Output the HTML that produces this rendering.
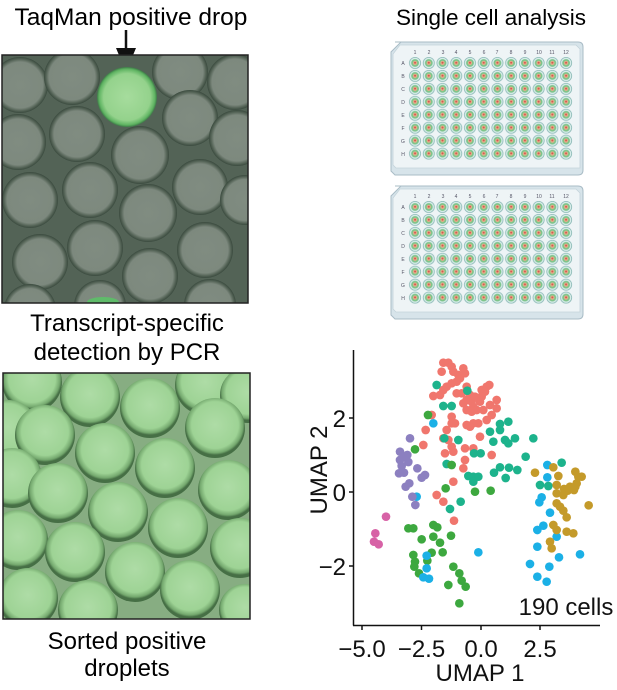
<!DOCTYPE html>
<html><head><meta charset="utf-8"><style>
html,body{margin:0;padding:0;background:#fff;}
svg{display:block;font-family:"Liberation Sans",Arial,sans-serif;}
</style></head><body>
<svg width="617" height="690" viewBox="0 0 617 690" xmlns="http://www.w3.org/2000/svg">
<defs>
<radialGradient id="gd" cx="50%" cy="45%" r="50%">
<stop offset="0" stop-color="#aedca6"/><stop offset="0.78" stop-color="#9ed395"/><stop offset="0.93" stop-color="#74a86e"/><stop offset="1" stop-color="#466f45"/>
</radialGradient>
<radialGradient id="gg" cx="50%" cy="50%" r="50%">
<stop offset="0" stop-color="#808c81"/><stop offset="0.82" stop-color="#7d897e"/><stop offset="0.92" stop-color="#566558"/><stop offset="1" stop-color="#3a4a3e"/>
</radialGradient>
<radialGradient id="gp" cx="50%" cy="50%" r="50%">
<stop offset="0" stop-color="#a6dc9d"/><stop offset="0.78" stop-color="#94d28c"/><stop offset="0.93" stop-color="#5fb462"/><stop offset="1" stop-color="#3e7a48"/>
</radialGradient>
<pattern id="wells" x="408.2" y="56.5" width="13.73" height="12.95" patternUnits="userSpaceOnUse">
<circle cx="6.86" cy="6.47" r="5.6" fill="#d7ecea" stroke="#8cbab6" stroke-width="0.8"/>
<circle cx="6.86" cy="6.47" r="3.9" fill="#7cc489"/>
<circle cx="6.86" cy="6.47" r="2.2" fill="#e0b08a"/>
<circle cx="6.86" cy="6.2" r="1" fill="#d9534f"/>
</pattern>
<pattern id="wells2" x="408.2" y="200.5" width="13.73" height="12.95" patternUnits="userSpaceOnUse">
<circle cx="6.86" cy="6.47" r="5.6" fill="#d7ecea" stroke="#8cbab6" stroke-width="0.8"/>
<circle cx="6.86" cy="6.47" r="3.9" fill="#7cc489"/>
<circle cx="6.86" cy="6.47" r="2.2" fill="#e0b08a"/>
<circle cx="6.86" cy="6.2" r="1" fill="#d9534f"/>
</pattern>
<clipPath id="c1"><rect x="2" y="55" width="246" height="248"/></clipPath>
<clipPath id="c2"><rect x="3" y="373" width="247" height="246"/></clipPath>
</defs>

<text x="131" y="25" font-size="24.5" text-anchor="middle">TaqMan positive drop</text>
<text x="491" y="25" font-size="22.5" text-anchor="middle">Single cell analysis</text>
<line x1="126" y1="30" x2="126" y2="58" stroke="#111" stroke-width="2.5"/>
<polygon points="116,48 136,48 126,72" fill="#111"/>

<g clip-path="url(#c1)">
<rect x="2" y="55" width="246" height="248" fill="#536356"/>
<g fill="url(#gg)">
<circle cx="20" cy="85" r="28"/><circle cx="72" cy="77" r="28"/><circle cx="180" cy="72" r="28"/><circle cx="235" cy="82" r="28"/>
<circle cx="18" cy="142" r="28"/><circle cx="77" cy="134" r="28"/><circle cx="140" cy="155" r="29"/><circle cx="190" cy="118" r="28"/><circle cx="237" cy="138" r="28"/>
<circle cx="30" cy="200" r="28"/><circle cx="90" cy="190" r="28"/><circle cx="148" cy="213" r="29"/><circle cx="200" cy="187" r="28"/><circle cx="245" cy="200" r="25"/>
<circle cx="40" cy="262" r="28"/><circle cx="95" cy="248" r="28"/><circle cx="150" cy="276" r="28"/><circle cx="205" cy="250" r="28"/>
<circle cx="30" cy="310" r="26"/><circle cx="100" cy="306" r="26"/><circle cx="210" cy="305" r="26"/>
</g>
<circle cx="127" cy="97" r="30" fill="url(#gp)"/>
<ellipse cx="103" cy="302" rx="16" ry="5" fill="#5fbb6a"/>
</g>
<rect x="2" y="55" width="246" height="248" fill="none" stroke="#222" stroke-width="1.5"/>

<text x="127" y="331" font-size="24" text-anchor="middle">Transcript-specific</text>
<text x="127" y="360" font-size="24" text-anchor="middle">detection by PCR</text>

<g clip-path="url(#c2)">
<rect x="3" y="373" width="247" height="246" fill="#87ad82"/>
<g fill="url(#gd)">
<circle cx="32" cy="382" r="30"/><circle cx="90" cy="397" r="30"/><circle cx="150" cy="408" r="30"/><circle cx="205" cy="385" r="30"/><circle cx="248" cy="395" r="28"/>
<circle cx="8" cy="430" r="30"/><circle cx="45" cy="435" r="30"/><circle cx="105" cy="453" r="30"/><circle cx="165" cy="468" r="30"/><circle cx="215" cy="428" r="30"/>
<circle cx="12" cy="478" r="30"/><circle cx="58" cy="493" r="30"/><circle cx="118" cy="512" r="30"/><circle cx="178" cy="528" r="30"/><circle cx="228" cy="490" r="30"/>
<circle cx="18" cy="540" r="30"/><circle cx="75" cy="552" r="30"/><circle cx="135" cy="572" r="30"/><circle cx="190" cy="590" r="30"/><circle cx="240" cy="548" r="30"/>
<circle cx="28" cy="598" r="30"/><circle cx="88" cy="610" r="30"/><circle cx="245" cy="610" r="26"/>
</g>
</g>
<rect x="3" y="373" width="247" height="246" fill="none" stroke="#222" stroke-width="1.5"/>

<text x="127" y="649" font-size="24" text-anchor="middle">Sorted positive</text>
<text x="127" y="676" font-size="24" text-anchor="middle">droplets</text>

<g>
<path d="M395,42 L578,42 Q583,42 583,47 L583,170 Q583,175 578,175 L395,175 L391,171 L391,52 L401,42 Z" fill="#d7e4ea" stroke="#a9bcc6" stroke-width="1"/>
<path d="M400,45 L576,45 L580,49 L580,168 L396,168 L393,165 L393,54 Z" fill="#eef4f6" stroke="#c3d3da" stroke-width="0.8"/>
<rect x="408.2" y="56.5" width="164.8" height="103.6" fill="url(#wells)"/>
<g font-size="5" fill="#556" text-anchor="middle">
<text x="415" y="54">1</text><text x="429" y="54">2</text><text x="443" y="54">3</text><text x="456" y="54">4</text><text x="470" y="54">5</text><text x="484" y="54">6</text><text x="497" y="54">7</text><text x="511" y="54">8</text><text x="525" y="54">9</text><text x="539" y="54">10</text><text x="552" y="54">11</text><text x="566" y="54">12</text>
<text x="403" y="65">A</text><text x="403" y="78">B</text><text x="403" y="91">C</text><text x="403" y="104">D</text><text x="403" y="117">E</text><text x="403" y="130">F</text><text x="403" y="143">G</text><text x="403" y="156">H</text>
</g>
</g>
<g>
<path d="M395,186 L578,186 Q583,186 583,191 L583,314 Q583,319 578,319 L395,319 L391,315 L391,196 L401,186 Z" fill="#d7e4ea" stroke="#a9bcc6" stroke-width="1"/>
<path d="M400,189 L576,189 L580,193 L580,312 L396,312 L393,309 L393,198 Z" fill="#eef4f6" stroke="#c3d3da" stroke-width="0.8"/>
<rect x="408.2" y="200.5" width="164.8" height="103.6" fill="url(#wells2)"/>
<g font-size="5" fill="#556" text-anchor="middle">
<text x="415" y="198">1</text><text x="429" y="198">2</text><text x="443" y="198">3</text><text x="456" y="198">4</text><text x="470" y="198">5</text><text x="484" y="198">6</text><text x="497" y="198">7</text><text x="511" y="198">8</text><text x="525" y="198">9</text><text x="539" y="198">10</text><text x="552" y="198">11</text><text x="566" y="198">12</text>
<text x="403" y="209">A</text><text x="403" y="222">B</text><text x="403" y="235">C</text><text x="403" y="248">D</text><text x="403" y="261">E</text><text x="403" y="274">F</text><text x="403" y="287">G</text><text x="403" y="300">H</text>
</g>
</g>

<g transform="translate(300,340) scale(0.33333)">
<g fill="#F0766D">
<circle cx="430" cy="68" r="13"/><circle cx="445" cy="68" r="13"/><circle cx="455" cy="80" r="13"/><circle cx="425" cy="95" r="13"/><circle cx="460" cy="95" r="13"/><circle cx="475" cy="105" r="13"/><circle cx="490" cy="85" r="13"/><circle cx="495" cy="100" r="13"/><circle cx="480" cy="115" r="13"/><circle cx="470" cy="125" r="13"/><circle cx="455" cy="130" r="13"/><circle cx="440" cy="140" r="13"/><circle cx="430" cy="150" r="13"/><circle cx="420" cy="165" r="13"/><circle cx="400" cy="168" r="13"/><circle cx="470" cy="160" r="13"/><circle cx="485" cy="160" r="13"/><circle cx="500" cy="140" r="13"/><circle cx="510" cy="165" r="13"/><circle cx="500" cy="180" r="13"/><circle cx="515" cy="185" r="13"/><circle cx="525" cy="170" r="13"/><circle cx="545" cy="150" r="13"/><circle cx="560" cy="140" r="13"/><circle cx="568" cy="135" r="13"/><circle cx="555" cy="155" r="13"/><circle cx="545" cy="170" r="13"/><circle cx="540" cy="185" r="13"/><circle cx="520" cy="200" r="13"/><circle cx="500" cy="210" r="13"/><circle cx="490" cy="190" r="13"/><circle cx="515" cy="215" r="13"/><circle cx="530" cy="210" r="13"/><circle cx="550" cy="210" r="13"/><circle cx="570" cy="195" r="13"/><circle cx="590" cy="180" r="13"/><circle cx="590" cy="205" r="13"/><circle cx="575" cy="225" r="13"/><circle cx="560" cy="240" r="13"/><circle cx="535" cy="250" r="13"/><circle cx="520" cy="250" r="13"/><circle cx="510" cy="260" r="13"/><circle cx="500" cy="255" r="13"/><circle cx="465" cy="250" r="13"/><circle cx="455" cy="250" r="13"/><circle cx="455" cy="230" r="13"/><circle cx="440" cy="270" r="13"/><circle cx="430" cy="295" r="13"/><circle cx="445" cy="300" r="13"/><circle cx="455" cy="320" r="13"/><circle cx="435" cy="340" r="13"/><circle cx="460" cy="335" r="13"/><circle cx="495" cy="325" r="13"/><circle cx="520" cy="325" r="13"/><circle cx="540" cy="290" r="13"/><circle cx="575" cy="345" r="13"/><circle cx="495" cy="360" r="13"/><circle cx="490" cy="385" r="13"/><circle cx="460" cy="425" r="13"/><circle cx="430" cy="485" r="13"/><circle cx="410" cy="465" r="13"/><circle cx="370" cy="315" r="13"/><circle cx="377" cy="270" r="13"/><circle cx="395" cy="225" r="13"/><circle cx="462" cy="542" r="13"/>
</g>
<g fill="#1DB38C">
<circle cx="410" cy="135" r="13"/><circle cx="430" cy="198" r="13"/><circle cx="455" cy="198" r="13"/><circle cx="502" cy="152" r="13"/><circle cx="600" cy="252" r="13"/><circle cx="625" cy="245" r="13"/><circle cx="600" cy="270" r="13"/><circle cx="570" cy="275" r="13"/><circle cx="580" cy="305" r="13"/><circle cx="615" cy="300" r="13"/><circle cx="625" cy="310" r="13"/><circle cx="645" cy="295" r="13"/><circle cx="700" cy="295" r="13"/><circle cx="677" cy="350" r="13"/><circle cx="652" cy="390" r="13"/><circle cx="627" cy="383" r="13"/><circle cx="600" cy="382" r="13"/><circle cx="582" cy="398" r="13"/><circle cx="617" cy="414" r="13"/><circle cx="522" cy="340" r="13"/><circle cx="542" cy="340" r="13"/><circle cx="505" cy="408" r="13"/><circle cx="520" cy="410" r="13"/><circle cx="535" cy="410" r="13"/><circle cx="520" cy="425" r="13"/><circle cx="433" cy="295" r="13"/><circle cx="440" cy="372" r="13"/><circle cx="450" cy="507" r="13"/><circle cx="482" cy="485" r="13"/><circle cx="785" cy="368" r="13"/><circle cx="720" cy="435" r="13"/><circle cx="745" cy="438" r="13"/><circle cx="475" cy="300" r="13"/>
</g>
<g fill="#3DA83F">
<circle cx="384" cy="225" r="13"/><circle cx="345" cy="328" r="13"/><circle cx="455" cy="375" r="13"/><circle cx="437" cy="445" r="13"/><circle cx="525" cy="455" r="13"/><circle cx="572" cy="452" r="13"/><circle cx="325" cy="565" r="13"/><circle cx="340" cy="565" r="13"/><circle cx="400" cy="555" r="13"/><circle cx="412" cy="562" r="13"/><circle cx="365" cy="598" r="13"/><circle cx="400" cy="590" r="13"/><circle cx="420" cy="608" r="13"/><circle cx="453" cy="587" r="13"/><circle cx="395" cy="638" r="13"/><circle cx="428" cy="637" r="13"/><circle cx="340" cy="645" r="13"/><circle cx="345" cy="665" r="13"/><circle cx="343" cy="680" r="13"/><circle cx="382" cy="662" r="13"/><circle cx="357" cy="700" r="13"/><circle cx="460" cy="680" r="13"/><circle cx="478" cy="700" r="13"/><circle cx="485" cy="722" r="13"/><circle cx="497" cy="740" r="13"/><circle cx="445" cy="735" r="13"/><circle cx="478" cy="790" r="13"/>
</g>
<g fill="#1BB0E6">
<circle cx="400" cy="250" r="13"/><circle cx="350" cy="470" r="13"/><circle cx="380" cy="647" r="13"/><circle cx="380" cy="685" r="13"/><circle cx="370" cy="712" r="13"/><circle cx="387" cy="716" r="13"/><circle cx="535" cy="637" r="13"/><circle cx="742" cy="375" r="13"/><circle cx="742" cy="412" r="13"/><circle cx="718" cy="487" r="13"/><circle cx="725" cy="472" r="13"/><circle cx="750" cy="518" r="13"/><circle cx="712" cy="570" r="13"/><circle cx="730" cy="557" r="13"/><circle cx="770" cy="590" r="13"/><circle cx="712" cy="620" r="13"/><circle cx="690" cy="672" r="13"/><circle cx="748" cy="680" r="13"/><circle cx="712" cy="710" r="13"/><circle cx="740" cy="725" r="13"/><circle cx="777" cy="652" r="13"/><circle cx="840" cy="643" r="13"/>
</g>
<g fill="#8C80C0">
<circle cx="330" cy="295" r="13"/><circle cx="300" cy="335" r="13"/><circle cx="312" cy="350" r="13"/><circle cx="322" cy="345" r="13"/><circle cx="300" cy="360" r="13"/><circle cx="305" cy="378" r="13"/><circle cx="325" cy="366" r="13"/><circle cx="352" cy="385" r="13"/><circle cx="297" cy="400" r="13"/><circle cx="312" cy="398" r="13"/><circle cx="375" cy="405" r="13"/><circle cx="365" cy="413" r="13"/><circle cx="328" cy="430" r="13"/><circle cx="317" cy="440" r="13"/><circle cx="337" cy="470" r="13"/><circle cx="346" cy="495" r="13"/>
</g>
<g fill="#C49A2A">
<circle cx="705" cy="398" r="13"/><circle cx="760" cy="382" r="13"/><circle cx="775" cy="408" r="13"/><circle cx="770" cy="435" r="13"/><circle cx="770" cy="460" r="13"/><circle cx="792" cy="447" r="13"/><circle cx="803" cy="452" r="13"/><circle cx="826" cy="395" r="13"/><circle cx="835" cy="410" r="13"/><circle cx="845" cy="410" r="13"/><circle cx="830" cy="430" r="13"/><circle cx="822" cy="450" r="13"/><circle cx="810" cy="440" r="13"/><circle cx="770" cy="490" r="13"/><circle cx="780" cy="500" r="13"/><circle cx="790" cy="512" r="13"/><circle cx="800" cy="532" r="13"/><circle cx="760" cy="555" r="13"/><circle cx="770" cy="570" r="13"/><circle cx="800" cy="575" r="13"/><circle cx="820" cy="580" r="13"/><circle cx="750" cy="605" r="13"/><circle cx="755" cy="625" r="13"/><circle cx="866" cy="496" r="13"/><circle cx="826" cy="440" r="13"/><circle cx="790" cy="465" r="13"/>
</g>
<g fill="#D762A6">
<circle cx="258" cy="530" r="13"/><circle cx="226" cy="580" r="13"/><circle cx="222" cy="605" r="13"/><circle cx="236" cy="613" r="13"/>
</g>
</g>

<line x1="353.5" y1="350" x2="353.5" y2="625.5" stroke="#111" stroke-width="1.5"/>
<line x1="353" y1="625.5" x2="600" y2="625.5" stroke="#111" stroke-width="1.5"/>
<g stroke="#111" stroke-width="1.5">
<line x1="349" y1="418" x2="353" y2="418"/><line x1="349" y1="492" x2="353" y2="492"/><line x1="349" y1="566" x2="353" y2="566"/>
<line x1="362" y1="626" x2="362" y2="630"/><line x1="421.5" y1="626" x2="421.5" y2="630"/><line x1="481" y1="626" x2="481" y2="630"/><line x1="540" y1="626" x2="540" y2="630"/>
</g>
<g font-size="24" fill="#111">
<text x="346" y="427" text-anchor="end">2</text>
<text x="346" y="501" text-anchor="end">0</text>
<text x="346" y="575" text-anchor="end">−2</text>
<text x="362" y="657" text-anchor="middle">−5.0</text>
<text x="421.5" y="657" text-anchor="middle">−2.5</text>
<text x="481" y="657" text-anchor="middle">0.0</text>
<text x="540" y="657" text-anchor="middle">2.5</text>
<text x="480" y="681" text-anchor="middle">UMAP 1</text>
<text transform="translate(327,470) rotate(-90)" text-anchor="middle">UMAP 2</text>
<text x="566" y="615" text-anchor="middle">190 cells</text>
</g>
</svg>
</body></html>
